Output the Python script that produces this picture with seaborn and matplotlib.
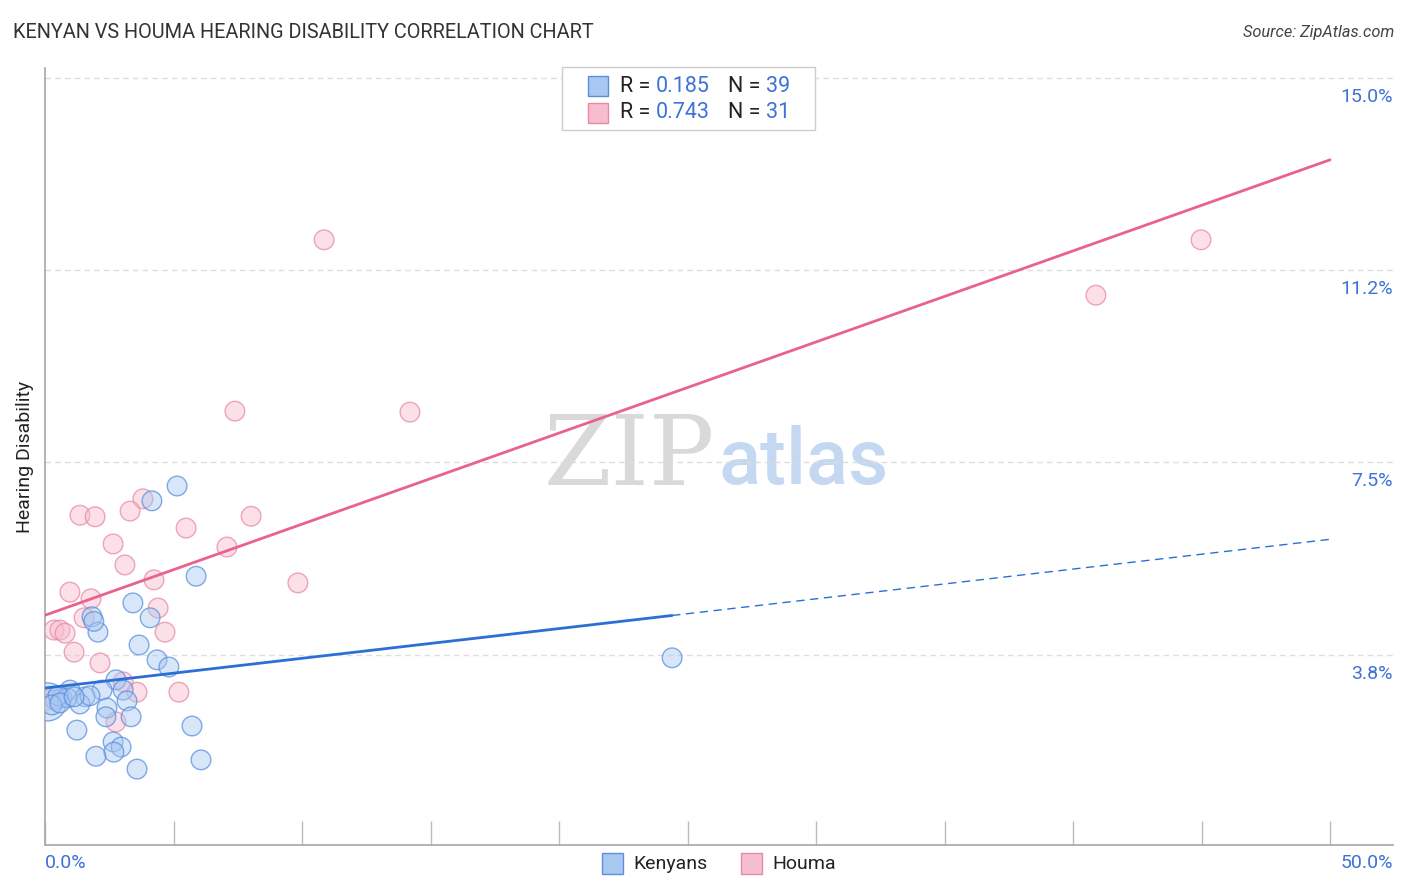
import matplotlib
matplotlib.use('Agg')
import matplotlib.pyplot as plt
import matplotlib.transforms as mtransforms
from matplotlib.colors import to_rgba
from matplotlib.patches import Rectangle
import numpy as np
import pandas as pd
import seaborn as sns

# Kenyans (x = share %, y = hearing disability %)
ken_x = [5.14, 4.16, 5.88, 3.42, 1.83, 4.09, 2.06, 3.66, 4.36, 4.82,
         24.4, 2.76, 3.04, 2.22, 3.19, 0.97, 1.56, 1.36, 0.66, 0.39,
         0.10, 2.41, 2.37, 3.35, 1.24, 5.72, 2.65, 2.96, 2.68, 1.98,
         6.07, 3.58, 0.86, 0.51, 1.75, 0.27, 0.58, 1.13, 1.90]
ken_y = [7.04, 6.75, 5.28, 4.76, 4.49, 4.47, 4.19, 3.94, 3.65, 3.51,
         3.69, 3.26, 3.06, 3.06, 2.85, 3.06, 2.93, 2.79, 2.91, 2.87,
         2.83, 2.71, 2.54, 2.54, 2.28, 2.36, 2.05, 1.95, 1.85, 1.77,
         1.70, 1.52, 2.91, 2.95, 2.95, 2.77, 2.81, 2.93, 4.40]
ken_w = [1] * 20 + [3] + [1] * 18

# Houma
hou_x = [10.86, 44.98, 40.89, 7.39, 14.20, 3.81, 1.36, 1.95, 3.31, 8.02,
         5.49, 2.65, 7.08, 3.11, 4.24, 9.84, 0.97, 1.79, 4.40, 1.52,
         4.67, 0.35, 0.58, 0.78, 1.13, 2.14, 3.04, 3.58, 5.21, 2.76, 0.10]
hou_y = [11.84, 11.84, 10.76, 8.50, 8.48, 6.79, 6.47, 6.44, 6.55, 6.45,
         6.22, 5.91, 5.85, 5.50, 5.21, 5.15, 4.97, 4.84, 4.66, 4.47,
         4.19, 4.23, 4.23, 4.17, 3.80, 3.59, 3.22, 3.02, 3.02, 2.44, 2.87]
hou_w = [1] * 31

# trend lines (value at x=0 and x=50)
ken_trend = [3.10, 6.00]
hou_trend = [4.52, 13.40]
ken_xmax = 24.4

yticks = [3.75, 7.5, 11.25, 15.0]
ylabels = ["3.8%", "7.5%", "11.2%", "15.0%"]

BLUE = "#5b8fdc"
BLUE_FILL = "#a8c8f2"
PINK = "#e88aa6"
PINK_FILL = "#f7bccd"
BLUE_LINE = "#2b6fd6"
PINK_LINE = "#e8628d"
TICK_BLUE = "#3d72d6"

sns.set_theme(style="white")
plt.rcParams['font.family'] = ['Roboto', 'DejaVu Sans']

W, H = 1406, 892
fig = plt.figure(figsize=(14.06, 8.92), dpi=100)
ax = fig.add_axes([45 / W, 1 - 845 / H, 1348 / W, 777 / H])

ken = pd.DataFrame({"x": ken_x, "y": ken_y, "w": ken_w})
hou = pd.DataFrame({"x": hou_x, "y": hou_y, "w": hou_w})

sizes = {1: 200, 3: 750}
for df, fill, edge in [(hou, PINK_FILL, PINK), (ken, BLUE_FILL, BLUE)]:
    sns.scatterplot(data=df, x="x", y="y", size="w", sizes=sizes,
                    size_order=[1, 3], color=fill, linewidth=1.0,
                    legend=False, ax=ax, zorder=3)
    coll = ax.collections[-1]
    coll.set_alpha(None)
    coll.set_facecolor(to_rgba(fill, 0.45))
    coll.set_edgecolor(to_rgba(edge, 0.75))

# trend lines
hx = np.array([0, 50])
ax.plot(hx, hou_trend, color=PINK_LINE, lw=2, zorder=4)
kslope = (ken_trend[1] - ken_trend[0]) / 50
ax.plot([0, ken_xmax], [ken_trend[0], ken_trend[0] + kslope * ken_xmax],
        color=BLUE_LINE, lw=2, zorder=4)
ax.plot([ken_xmax, 50], [ken_trend[0] + kslope * ken_xmax, ken_trend[1]],
        color=BLUE_LINE, lw=1, ls=(0, (6, 4)), zorder=4)

ax.set_xlim(0, 52.45)
ax.set_ylim(0.04, 15.19)

for v in yticks:
    ax.axhline(v, color="#dddddd", lw=1, ls=(0, (4, 3)), zorder=1)
ax.set_yticks([])
ax.set_ylabel("Hearing Disability", fontsize=14, color="#222222", labelpad=8)
ax.set_xlabel("")

trans = mtransforms.blended_transform_factory(ax.transAxes, ax.transData)
for v, lab in zip(yticks, ylabels):
    ax.text(1.0, v - 0.37, lab, transform=trans, ha="right", va="center",
            fontsize=14, color=TICK_BLUE)

ax.set_xticks(np.arange(0, 51, 5))
ax.set_xticklabels([])
ax.tick_params(axis="x", direction="in", length=17, width=1, color="#bbbbbb",
               bottom=True)
ax.text(0.0, -0.023, "0.0%", transform=ax.transAxes, ha="left", va="center",
        fontsize=14, color=TICK_BLUE)
ax.text(1.0, -0.023, "50.0%", transform=ax.transAxes, ha="right", va="center",
        fontsize=14, color=TICK_BLUE)

for side in ["top", "right"]:
    ax.spines[side].set_visible(False)
ax.spines["left"].set_color("#aaaaaa")
ax.spines["bottom"].set_color("#aaaaaa")

# watermark, behind the marks
ax.text(715 / W, 1 - 458 / H, "ZIP", transform=fig.transFigure, ha="right",
        va="center", fontsize=70, family="DejaVu Serif", color="#d9d9d9",
        zorder=0)
ax.text(718 / W, 1 - 462 / H, "atlas", transform=fig.transFigure, ha="left",
        va="center", fontsize=56, color="#c4d8f2", fontweight="medium",
        zorder=0)

# title and source
fig.text(13 / W, 1 - 33 / H, "KENYAN VS HOUMA HEARING DISABILITY CORRELATION CHART",
         fontsize=14.3, color="#333333", va="center", ha="left")
fig.text(1394 / W, 1 - 33 / H, "Source: ZipAtlas.com", fontsize=11.8,
         color="#444444", style="italic", va="center", ha="right")

# stats legend box
fig.patches.append(Rectangle((562 / W, 1 - 130 / H), 253 / W, 63 / H,
                             transform=fig.transFigure, facecolor="white",
                             edgecolor="#cccccc", lw=1, zorder=5))
rows = [(86, BLUE_FILL, BLUE, "0.185", "39"), (113, PINK_FILL, PINK, "0.743", "31")]
for yy, fc, ec, r, n in rows:
    fig.patches.append(Rectangle((588 / W, 1 - (yy + 10) / H), 20 / W, 20 / H,
                                 transform=fig.transFigure, facecolor=fc,
                                 edgecolor=ec, lw=1, zorder=6))
    fig.text(620 / W, 1 - yy / H, "R =", fontsize=15.5, color="#222222",
             va="center", ha="left", zorder=7)
    fig.text(710 / W, 1 - yy / H, r, fontsize=15.5, color=TICK_BLUE,
             va="center", ha="right", zorder=7)
    fig.text(728 / W, 1 - yy / H, "N =", fontsize=15.5, color="#222222",
             va="center", ha="left", zorder=7)
    fig.text(790 / W, 1 - yy / H, n, fontsize=15.5, color=TICK_BLUE,
             va="center", ha="right", zorder=7)

# bottom legend
for x0, fc, ec, lab in [(602, BLUE_FILL, BLUE, "Kenyans"), (741, PINK_FILL, PINK, "Houma")]:
    fig.patches.append(Rectangle((x0 / W, 1 - 874 / H), 21 / W, 21 / H,
                                 transform=fig.transFigure, facecolor=fc,
                                 edgecolor=ec, lw=1))
    fig.text((x0 + 31) / W, 1 - 864 / H, lab, fontsize=14, color="#222222",
             va="center", ha="left")

fig.savefig("out.png", dpi=100)
